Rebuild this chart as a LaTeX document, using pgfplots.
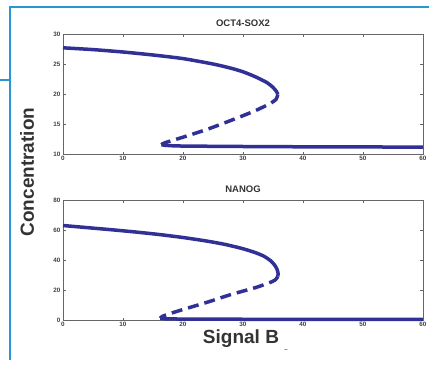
\documentclass[border=0pt]{standalone}
\usepackage{pgfplots}
\pgfplotsset{compat=1.18}
\usepackage{fontspec}
\setmainfont{Liberation Sans}
\definecolor{curve}{RGB}{48,48,150}
\definecolor{frame}{RGB}{40,150,210}
\begin{document}
\begin{tikzpicture}[x=1pt,y=1pt]
\path[use as bounding box] (0,0) rectangle (429,368);
\draw[frame, line width=1.2pt] (10,8) -- (10,361) -- (429,361);
\draw[frame, line width=1.2pt] (0,288) -- (10,288);
\pgfplotsset{myax/.style={scale only axis, width=360pt, height=120pt,
  xmin=0, xmax=60, xtick={0,10,...,60}, tick align=inside,
  ticklabel style={font=\fontsize{6.3}{7}\selectfont\bfseries, text=black!75},
  /pgf/number format/assume math mode=true,
  axis line style={black!60}, major tick style={black!60},
  major tick length=2.5pt,
  xticklabel style={yshift=1.5pt}, yticklabel style={xshift=1pt},
  title style={font=\fontsize{9.5}{10}\selectfont\bfseries, text=black!80, yshift=-2pt},
  anchor=south west, clip=false}}
\begin{axis}[myax, at={(63pt,214pt)}, ymin=10, ymax=30, ytick={10,15,...,30}, title={OCT4-SOX2}]
\addplot[curve, line width=3.5pt, smooth, tension=0.4] coordinates {(0,27.7) (5,27.4) (10,27.0) (15,26.5) (20,25.9) (25,25.0) (28,24.3) (30,23.7) (32,22.9) (34,21.9) (35,21.1) (35.6,20.4) (35.8,19.9)};
\addplot[curve, line width=3.5pt, dash pattern=on 11pt off 6pt, smooth, tension=0.4] coordinates {(35.8,19.9) (35.5,19.1) (34.5,18.4) (32,17.2) (28,15.6) (24,14.1) (20,12.8) (18,12.2) (16.8,11.8) (16.4,11.55)};
\addplot[curve, line width=3.5pt] coordinates {(16.4,11.55) (17,11.45) (18,11.38) (20,11.32) (30,11.25) (40,11.2) (60,11.15)};
\end{axis}
\begin{axis}[myax, at={(63pt,48pt)}, ymin=0, ymax=80, ytick={0,20,...,80}, title={NANOG}]
\addplot[curve, line width=3.5pt, smooth, tension=0.4] coordinates {(0,63) (4,61.6) (8,60.2) (12,58.7) (16,57.0) (20,55.0) (24,52.6) (27,50.4) (30,47.5) (32,45.0) (33.5,42.5) (34.6,39.5) (35.3,36.5) (35.7,33.5) (35.85,31) (35.8,29)};
\addplot[curve, line width=3.5pt, dash pattern=on 11pt off 6pt, smooth, tension=0.4] coordinates {(35.8,29) (35.4,26.8) (34.5,25) (32,21.5) (28,17) (24,11.8) (20,7) (18,4.5) (16.6,2.5) (16.2,1.2)};
\addplot[curve, line width=3.5pt] coordinates {(16.2,1.2) (17,0.8) (20,0.6) (30,0.5) (60,0.5)};
\end{axis}
\node[font=\fontsize{19}{22}\selectfont\bfseries, rotate=90, text=black!80] at (27,196) {Concentration};
\node[font=\fontsize{19}{22}\selectfont\bfseries, text=black!80] at (241,29) {Signal B};
\node[font=\fontsize{6}{6}\selectfont\bfseries, text=black!70] at (286,17) {--};
\end{tikzpicture}
\end{document}
